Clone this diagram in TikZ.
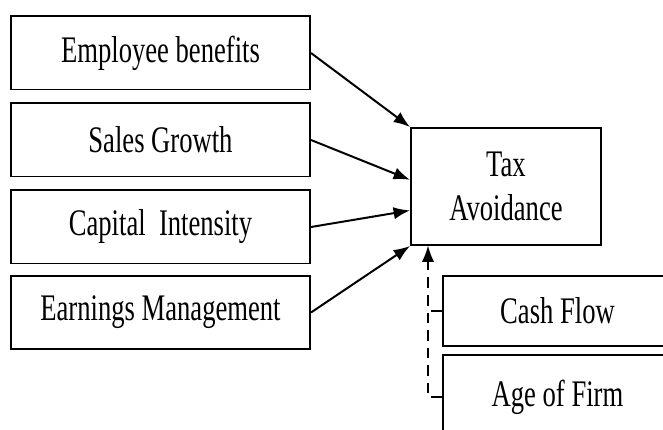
\documentclass[tikz,border=0pt]{standalone}
\usepackage{fontspec}
\setmainfont{Liberation Serif}[FakeStretch=0.71]
\usetikzlibrary{arrows.meta}
\tikzset{
  varbox/.style={draw,line width=1.7pt,minimum width=8.97cm,minimum height=2.19cm,inner sep=0pt,
    font=\fontsize{32}{37}\selectfont},
  ctrlbox/.style={varbox,minimum width=6.87cm,minimum height=2.1cm}
}
\begin{document}
\begin{tikzpicture}[x=0.03cm,y=-0.03cm,>={Latex[length=14pt,width=10.5pt]}]
\clip (0,0) rectangle (663,430);

\foreach \y/\nm/\txt in {53/eb/Employee benefits,140/sg/Sales Growth,227/ci/{Capital\ \ Intensity},312.5/em/Earnings Management}
{
    \node[varbox] (\nm) at (160.5,\y) {\txt};
}
\node[varbox,minimum width=5.7cm,minimum height=3.51cm,align=center] (tax) at (506,186.5) {Tax\\Avoidance};

\node[ctrlbox] (cf) at (557.5,311) {Cash Flow};
\node[ctrlbox,minimum height=2.52cm] (af) at (557.5,397) {Age of Firm};

\draw[->,line width=1.7pt] (eb.east)--(tax.north west);
\draw[->,line width=1.7pt] (sg.east)--(tax.176);
\draw[->,line width=1.7pt] (ci.east)--(tax.194);
\draw[->,line width=1.7pt] (em.east)--(tax.south west);

% controls
\coordinate (jn) at (428,245.5);
\draw[->,line width=1.4pt,dash pattern=on 9pt off 6pt] (af.west)-|(jn);
\draw[line width=1.4pt,dash pattern=on 9pt off 6pt] (cf.west)--(cf.west-|jn);
\end{tikzpicture}
\end{document}
